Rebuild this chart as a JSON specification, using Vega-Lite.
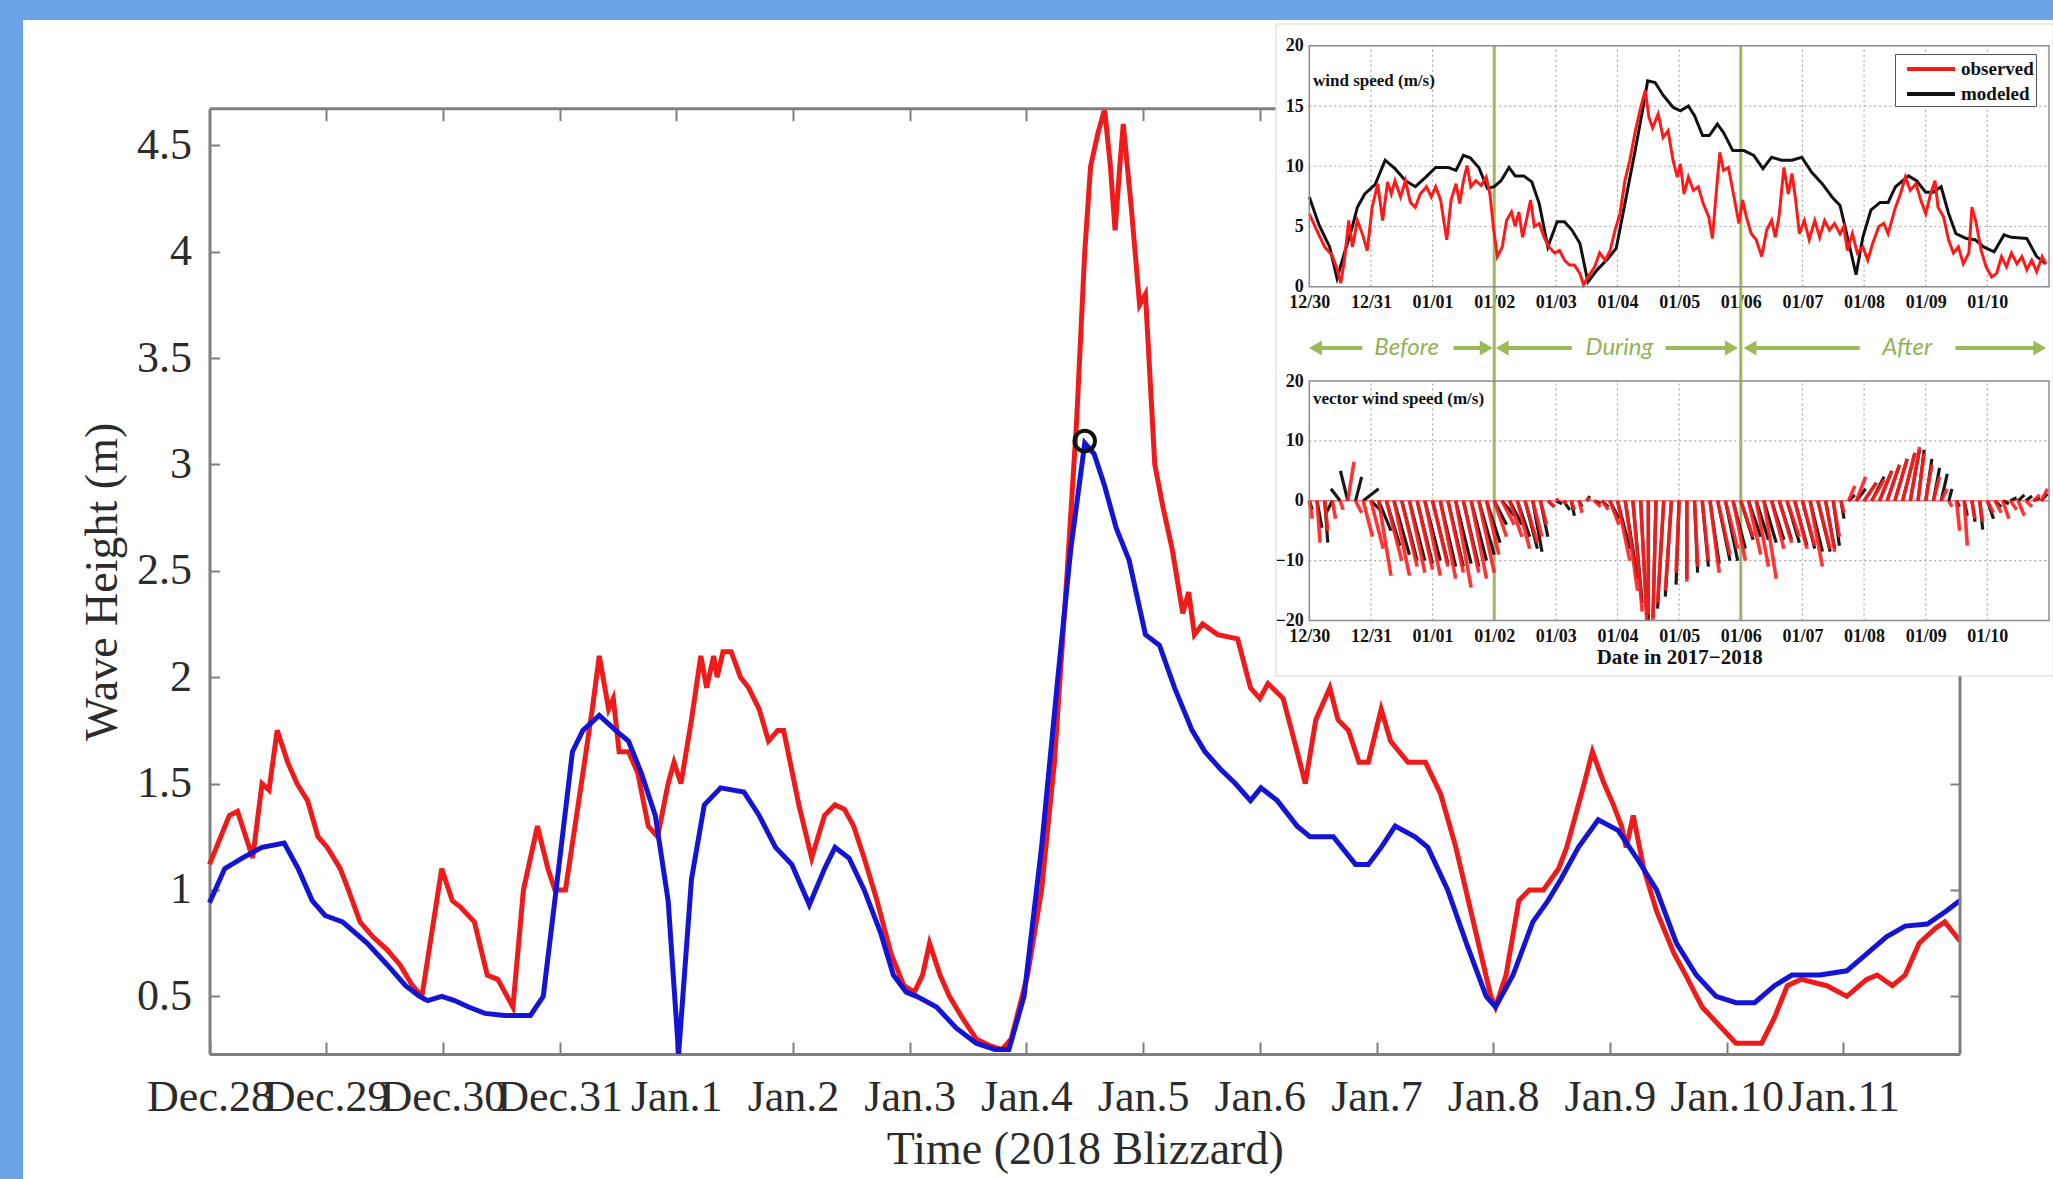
{
"$schema": "https://vega.github.io/schema/vega-lite/v6.json",
"width": 2030, "height": 1159,
"autosize": {"type": "none"},
"padding": {"left": 23, "top": 20, "right": 0, "bottom": 0},
"background": "#6aa3e6",
"config": {"view": {"stroke": null, "fill": "white"}},
"datasets": {
"obs": [
{"d":0.00,"h":1.12},{"d":0.17,"h":1.35},{"d":0.24,"h":1.37},{"d":0.37,"h":1.15},{"d":0.45,"h":1.50},{"d":0.51,"h":1.47},{"d":0.58,"h":1.75},{"d":0.67,"h":1.60},{"d":0.75,"h":1.50},{"d":0.84,"h":1.42},{"d":0.93,"h":1.25},{"d":1.01,"h":1.20},{"d":1.12,"h":1.10},{"d":1.19,"h":1.00},{"d":1.29,"h":0.85},{"d":1.40,"h":0.78},{"d":1.52,"h":0.72},{"d":1.63,"h":0.65},{"d":1.74,"h":0.55},{"d":1.82,"h":0.50},{"d":1.99,"h":1.10},{"d":2.08,"h":0.95},{"d":2.15,"h":0.92},{"d":2.27,"h":0.85},{"d":2.38,"h":0.60},{"d":2.47,"h":0.58},{"d":2.60,"h":0.45},{"d":2.69,"h":1.00},{"d":2.81,"h":1.30},{"d":2.90,"h":1.10},{"d":2.96,"h":1.00},{"d":3.05,"h":1.00},{"d":3.20,"h":1.55},{"d":3.28,"h":1.85},{"d":3.34,"h":2.10},{"d":3.42,"h":1.85},{"d":3.46,"h":1.90},{"d":3.51,"h":1.65},{"d":3.59,"h":1.65},{"d":3.67,"h":1.55},{"d":3.76,"h":1.30},{"d":3.84,"h":1.25},{"d":3.93,"h":1.50},{"d":3.98,"h":1.60},{"d":4.04,"h":1.50},{"d":4.13,"h":1.80},{"d":4.21,"h":2.10},{"d":4.26,"h":1.95},{"d":4.32,"h":2.10},{"d":4.35,"h":2.00},{"d":4.40,"h":2.12},{"d":4.47,"h":2.12},{"d":4.55,"h":2.00},{"d":4.62,"h":1.95},{"d":4.71,"h":1.85},{"d":4.79,"h":1.70},{"d":4.87,"h":1.75},{"d":4.92,"h":1.75},{"d":5.05,"h":1.40},{"d":5.16,"h":1.15},{"d":5.27,"h":1.35},{"d":5.36,"h":1.40},{"d":5.44,"h":1.38},{"d":5.52,"h":1.30},{"d":5.61,"h":1.15},{"d":5.72,"h":0.95},{"d":5.84,"h":0.70},{"d":5.95,"h":0.55},{"d":6.04,"h":0.52},{"d":6.11,"h":0.60},{"d":6.17,"h":0.75},{"d":6.26,"h":0.60},{"d":6.34,"h":0.50},{"d":6.45,"h":0.40},{"d":6.57,"h":0.30},{"d":6.68,"h":0.27},{"d":6.79,"h":0.25},{"d":6.87,"h":0.30},{"d":7.01,"h":0.60},{"d":7.13,"h":1.00},{"d":7.24,"h":1.60},{"d":7.35,"h":2.50},{"d":7.43,"h":3.20},{"d":7.50,"h":4.00},{"d":7.55,"h":4.40},{"d":7.61,"h":4.55},{"d":7.67,"h":4.67},{"d":7.72,"h":4.40},{"d":7.76,"h":4.10},{"d":7.80,"h":4.40},{"d":7.83,"h":4.60},{"d":7.90,"h":4.20},{"d":7.97,"h":3.75},{"d":8.02,"h":3.80},{"d":8.10,"h":3.00},{"d":8.17,"h":2.80},{"d":8.25,"h":2.60},{"d":8.34,"h":2.30},{"d":8.39,"h":2.40},{"d":8.44,"h":2.20},{"d":8.51,"h":2.25},{"d":8.64,"h":2.20},{"d":8.81,"h":2.18},{"d":8.92,"h":1.95},{"d":9.00,"h":1.90},{"d":9.07,"h":1.97},{"d":9.20,"h":1.90},{"d":9.32,"h":1.65},{"d":9.39,"h":1.50},{"d":9.48,"h":1.80},{"d":9.60,"h":1.95},{"d":9.67,"h":1.80},{"d":9.76,"h":1.75},{"d":9.85,"h":1.60},{"d":9.93,"h":1.60},{"d":10.04,"h":1.85},{"d":10.12,"h":1.70},{"d":10.27,"h":1.60},{"d":10.42,"h":1.60},{"d":10.55,"h":1.45},{"d":10.68,"h":1.20},{"d":10.83,"h":0.85},{"d":10.98,"h":0.50},{"d":11.02,"h":0.45},{"d":11.11,"h":0.60},{"d":11.22,"h":0.95},{"d":11.31,"h":1.00},{"d":11.43,"h":1.00},{"d":11.56,"h":1.10},{"d":11.63,"h":1.20},{"d":11.78,"h":1.50},{"d":11.85,"h":1.65},{"d":11.95,"h":1.50},{"d":12.03,"h":1.40},{"d":12.10,"h":1.30},{"d":12.14,"h":1.20},{"d":12.20,"h":1.35},{"d":12.29,"h":1.10},{"d":12.40,"h":0.90},{"d":12.55,"h":0.70},{"d":12.65,"h":0.60},{"d":12.79,"h":0.45},{"d":12.96,"h":0.35},{"d":13.08,"h":0.28},{"d":13.30,"h":0.28},{"d":13.41,"h":0.40},{"d":13.52,"h":0.55},{"d":13.64,"h":0.58},{"d":13.86,"h":0.55},{"d":14.03,"h":0.50},{"d":14.20,"h":0.58},{"d":14.29,"h":0.60},{"d":14.42,"h":0.55},{"d":14.53,"h":0.60},{"d":14.65,"h":0.75},{"d":14.79,"h":0.82},{"d":14.87,"h":0.85},{"d":15.00,"h":0.76}
],
"mod": [
{"d":0.00,"h":0.94},{"d":0.13,"h":1.10},{"d":0.28,"h":1.15},{"d":0.45,"h":1.20},{"d":0.64,"h":1.22},{"d":0.76,"h":1.10},{"d":0.88,"h":0.95},{"d":0.99,"h":0.88},{"d":1.14,"h":0.85},{"d":1.35,"h":0.75},{"d":1.52,"h":0.65},{"d":1.68,"h":0.55},{"d":1.80,"h":0.50},{"d":1.87,"h":0.48},{"d":1.99,"h":0.50},{"d":2.10,"h":0.48},{"d":2.22,"h":0.45},{"d":2.36,"h":0.42},{"d":2.53,"h":0.41},{"d":2.75,"h":0.41},{"d":2.86,"h":0.50},{"d":2.97,"h":1.00},{"d":3.11,"h":1.65},{"d":3.20,"h":1.75},{"d":3.34,"h":1.82},{"d":3.48,"h":1.75},{"d":3.59,"h":1.70},{"d":3.70,"h":1.55},{"d":3.82,"h":1.35},{"d":3.93,"h":0.95},{"d":4.02,"h":0.23},{"d":4.13,"h":1.05},{"d":4.24,"h":1.40},{"d":4.38,"h":1.48},{"d":4.58,"h":1.46},{"d":4.71,"h":1.35},{"d":4.85,"h":1.20},{"d":4.99,"h":1.12},{"d":5.14,"h":0.93},{"d":5.27,"h":1.10},{"d":5.36,"h":1.20},{"d":5.48,"h":1.15},{"d":5.61,"h":1.00},{"d":5.75,"h":0.80},{"d":5.86,"h":0.60},{"d":5.97,"h":0.52},{"d":6.06,"h":0.50},{"d":6.23,"h":0.45},{"d":6.40,"h":0.35},{"d":6.57,"h":0.28},{"d":6.73,"h":0.25},{"d":6.85,"h":0.25},{"d":6.98,"h":0.50},{"d":7.13,"h":1.20},{"d":7.27,"h":2.00},{"d":7.38,"h":2.60},{"d":7.50,"h":3.10},{"d":7.58,"h":3.05},{"d":7.67,"h":2.90},{"d":7.77,"h":2.70},{"d":7.88,"h":2.55},{"d":8.02,"h":2.20},{"d":8.14,"h":2.15},{"d":8.27,"h":1.95},{"d":8.42,"h":1.75},{"d":8.53,"h":1.65},{"d":8.66,"h":1.57},{"d":8.79,"h":1.50},{"d":8.92,"h":1.42},{"d":9.01,"h":1.48},{"d":9.15,"h":1.42},{"d":9.32,"h":1.30},{"d":9.43,"h":1.25},{"d":9.63,"h":1.25},{"d":9.82,"h":1.12},{"d":9.93,"h":1.12},{"d":10.04,"h":1.20},{"d":10.16,"h":1.30},{"d":10.33,"h":1.25},{"d":10.44,"h":1.20},{"d":10.61,"h":1.00},{"d":10.77,"h":0.75},{"d":10.94,"h":0.50},{"d":11.02,"h":0.45},{"d":11.17,"h":0.60},{"d":11.34,"h":0.85},{"d":11.47,"h":0.95},{"d":11.58,"h":1.05},{"d":11.73,"h":1.20},{"d":11.90,"h":1.33},{"d":12.07,"h":1.28},{"d":12.23,"h":1.15},{"d":12.40,"h":1.00},{"d":12.57,"h":0.75},{"d":12.74,"h":0.60},{"d":12.91,"h":0.50},{"d":13.08,"h":0.47},{"d":13.24,"h":0.47},{"d":13.41,"h":0.55},{"d":13.56,"h":0.60},{"d":13.80,"h":0.60},{"d":14.03,"h":0.62},{"d":14.20,"h":0.70},{"d":14.37,"h":0.78},{"d":14.53,"h":0.83},{"d":14.72,"h":0.84},{"d":14.88,"h":0.90},{"d":15.00,"h":0.95}
],
"wind": [
{"s":"modeled","d":0,"w":7.45},{"s":"modeled","d":0.16,"w":5.1},{"s":"modeled","d":0.33,"w":3.3},{"s":"modeled","d":0.45,"w":0.7},{"s":"modeled","d":0.57,"w":2.8},{"s":"modeled","d":0.70,"w":5.0},{"s":"modeled","d":0.78,"w":6.6},{"s":"modeled","d":0.90,"w":7.7},{"s":"modeled","d":1.07,"w":8.5},{"s":"modeled","d":1.23,"w":10.5},{"s":"modeled","d":1.39,"w":9.8},{"s":"modeled","d":1.56,"w":8.8},{"s":"modeled","d":1.72,"w":8.3},{"s":"modeled","d":1.89,"w":9.1},{"s":"modeled","d":2.05,"w":9.9},{"s":"modeled","d":2.25,"w":9.9},{"s":"modeled","d":2.38,"w":9.65},{"s":"modeled","d":2.50,"w":10.9},{"s":"modeled","d":2.61,"w":10.7},{"s":"modeled","d":2.75,"w":9.9},{"s":"modeled","d":2.89,"w":8.15},{"s":"modeled","d":3.0,"w":8.3},{"s":"modeled","d":3.11,"w":8.8},{"s":"modeled","d":3.24,"w":9.9},{"s":"modeled","d":3.34,"w":9.2},{"s":"modeled","d":3.48,"w":9.2},{"s":"modeled","d":3.61,"w":8.7},{"s":"modeled","d":3.73,"w":6.9},{"s":"modeled","d":3.87,"w":3.3},{"s":"modeled","d":4.02,"w":5.4},{"s":"modeled","d":4.14,"w":5.4},{"s":"modeled","d":4.26,"w":4.7},{"s":"modeled","d":4.39,"w":3.6},{"s":"modeled","d":4.52,"w":0.4},{"s":"modeled","d":4.67,"w":1.4},{"s":"modeled","d":4.84,"w":2.3},{"s":"modeled","d":4.98,"w":3.2},{"s":"modeled","d":5.12,"w":6.9},{"s":"modeled","d":5.29,"w":11.4},{"s":"modeled","d":5.41,"w":14.75},{"s":"modeled","d":5.49,"w":17.1},{"s":"modeled","d":5.61,"w":16.95},{"s":"modeled","d":5.74,"w":15.9},{"s":"modeled","d":5.90,"w":14.9},{"s":"modeled","d":6.02,"w":14.6},{"s":"modeled","d":6.15,"w":15.0},{"s":"modeled","d":6.25,"w":14.2},{"s":"modeled","d":6.38,"w":12.55},{"s":"modeled","d":6.49,"w":12.55},{"s":"modeled","d":6.62,"w":13.5},{"s":"modeled","d":6.72,"w":12.8},{"s":"modeled","d":6.87,"w":11.3},{"s":"modeled","d":7.05,"w":11.3},{"s":"modeled","d":7.21,"w":10.9},{"s":"modeled","d":7.36,"w":9.8},{"s":"modeled","d":7.50,"w":10.75},{"s":"modeled","d":7.66,"w":10.5},{"s":"modeled","d":7.83,"w":10.5},{"s":"modeled","d":7.99,"w":10.75},{"s":"modeled","d":8.15,"w":9.5},{"s":"modeled","d":8.32,"w":8.55},{"s":"modeled","d":8.48,"w":7.45},{"s":"modeled","d":8.61,"w":6.75},{"s":"modeled","d":8.69,"w":5.0},{"s":"modeled","d":8.79,"w":2.8},{"s":"modeled","d":8.87,"w":1.0},{"s":"modeled","d":8.98,"w":4.1},{"s":"modeled","d":9.11,"w":6.35},{"s":"modeled","d":9.26,"w":7.0},{"s":"modeled","d":9.39,"w":7.0},{"s":"modeled","d":9.51,"w":8.3},{"s":"modeled","d":9.72,"w":9.2},{"s":"modeled","d":9.85,"w":8.8},{"s":"modeled","d":10.0,"w":7.85},{"s":"modeled","d":10.12,"w":7.85},{"s":"modeled","d":10.25,"w":8.3},{"s":"modeled","d":10.37,"w":6.1},{"s":"modeled","d":10.49,"w":4.4},{"s":"modeled","d":10.66,"w":4.0},{"s":"modeled","d":10.80,"w":3.9},{"s":"modeled","d":10.94,"w":3.3},{"s":"modeled","d":11.11,"w":2.9},{"s":"modeled","d":11.27,"w":4.3},{"s":"modeled","d":11.39,"w":4.1},{"s":"modeled","d":11.64,"w":4.0},{"s":"modeled","d":11.80,"w":2.5},{"s":"modeled","d":11.95,"w":1.9},
{"s":"observed","d":0,"w":6.05},{"s":"observed","d":0.12,"w":4.7},{"s":"observed","d":0.25,"w":3.3},{"s":"observed","d":0.37,"w":2.6},{"s":"observed","d":0.45,"w":1.5},{"s":"observed","d":0.51,"w":0.3},{"s":"observed","d":0.57,"w":2.2},{"s":"observed","d":0.64,"w":5.5},{"s":"observed","d":0.70,"w":3.3},{"s":"observed","d":0.78,"w":5.5},{"s":"observed","d":0.86,"w":4.4},{"s":"observed","d":0.94,"w":3.0},{"s":"observed","d":1.02,"w":6.6},{"s":"observed","d":1.11,"w":8.55},{"s":"observed","d":1.19,"w":5.5},{"s":"observed","d":1.27,"w":8.7},{"s":"observed","d":1.33,"w":7.7},{"s":"observed","d":1.39,"w":8.8},{"s":"observed","d":1.48,"w":7.45},{"s":"observed","d":1.56,"w":8.8},{"s":"observed","d":1.64,"w":7.0},{"s":"observed","d":1.72,"w":6.6},{"s":"observed","d":1.80,"w":7.7},{"s":"observed","d":1.90,"w":8.3},{"s":"observed","d":1.98,"w":7.45},{"s":"observed","d":2.05,"w":8.3},{"s":"observed","d":2.13,"w":7.2},{"s":"observed","d":2.23,"w":3.9},{"s":"observed","d":2.30,"w":7.2},{"s":"observed","d":2.38,"w":8.55},{"s":"observed","d":2.44,"w":6.9},{"s":"observed","d":2.50,"w":8.8},{"s":"observed","d":2.56,"w":10.05},{"s":"observed","d":2.62,"w":8.3},{"s":"observed","d":2.70,"w":8.8},{"s":"observed","d":2.79,"w":8.4},{"s":"observed","d":2.87,"w":9.1},{"s":"observed","d":2.93,"w":7.7},{"s":"observed","d":2.99,"w":4.8},{"s":"observed","d":3.05,"w":2.5},{"s":"observed","d":3.13,"w":3.3},{"s":"observed","d":3.20,"w":5.5},{"s":"observed","d":3.28,"w":6.2},{"s":"observed","d":3.34,"w":5.0},{"s":"observed","d":3.40,"w":6.2},{"s":"observed","d":3.46,"w":4.1},{"s":"observed","d":3.52,"w":5.5},{"s":"observed","d":3.59,"w":7.2},{"s":"observed","d":3.65,"w":5.0},{"s":"observed","d":3.73,"w":5.25},{"s":"observed","d":3.81,"w":4.1},{"s":"observed","d":3.89,"w":3.3},{"s":"observed","d":3.98,"w":2.8},{"s":"observed","d":4.06,"w":3.0},{"s":"observed","d":4.14,"w":2.2},{"s":"observed","d":4.22,"w":1.8},{"s":"observed","d":4.30,"w":1.8},{"s":"observed","d":4.39,"w":1.1},{"s":"observed","d":4.45,"w":0.15},{"s":"observed","d":4.52,"w":0.8},{"s":"observed","d":4.63,"w":1.65},{"s":"observed","d":4.71,"w":2.8},{"s":"observed","d":4.80,"w":2.2},{"s":"observed","d":4.88,"w":3.0},{"s":"observed","d":4.96,"w":4.7},{"s":"observed","d":5.04,"w":6.05},{"s":"observed","d":5.12,"w":8.8},{"s":"observed","d":5.20,"w":10.5},{"s":"observed","d":5.29,"w":12.95},{"s":"observed","d":5.37,"w":14.75},{"s":"observed","d":5.45,"w":16.3},{"s":"observed","d":5.51,"w":14.05},{"s":"observed","d":5.57,"w":13.2},{"s":"observed","d":5.66,"w":14.35},{"s":"observed","d":5.74,"w":12.4},{"s":"observed","d":5.82,"w":12.95},{"s":"observed","d":5.90,"w":10.5},{"s":"observed","d":5.97,"w":9.1},{"s":"observed","d":6.02,"w":10.2},{"s":"observed","d":6.08,"w":7.7},{"s":"observed","d":6.15,"w":9.1},{"s":"observed","d":6.23,"w":8.0},{"s":"observed","d":6.31,"w":8.3},{"s":"observed","d":6.39,"w":6.9},{"s":"observed","d":6.48,"w":5.8},{"s":"observed","d":6.54,"w":4.0},{"s":"observed","d":6.60,"w":7.7},{"s":"observed","d":6.66,"w":11.15},{"s":"observed","d":6.72,"w":9.65},{"s":"observed","d":6.80,"w":9.9},{"s":"observed","d":6.89,"w":7.45},{"s":"observed","d":6.97,"w":5.25},{"s":"observed","d":7.03,"w":7.2},{"s":"observed","d":7.09,"w":5.8},{"s":"observed","d":7.17,"w":4.4},{"s":"observed","d":7.25,"w":3.9},{"s":"observed","d":7.34,"w":2.5},{"s":"observed","d":7.42,"w":4.7},{"s":"observed","d":7.50,"w":5.5},{"s":"observed","d":7.56,"w":4.1},{"s":"observed","d":7.62,"w":5.8},{"s":"observed","d":7.70,"w":9.9},{"s":"observed","d":7.77,"w":7.7},{"s":"observed","d":7.83,"w":9.4},{"s":"observed","d":7.89,"w":7.2},{"s":"observed","d":7.95,"w":4.4},{"s":"observed","d":8.03,"w":5.5},{"s":"observed","d":8.11,"w":3.9},{"s":"observed","d":8.20,"w":5.5},{"s":"observed","d":8.28,"w":4.1},{"s":"observed","d":8.36,"w":5.5},{"s":"observed","d":8.44,"w":4.7},{"s":"observed","d":8.52,"w":5.25},{"s":"observed","d":8.61,"w":4.4},{"s":"observed","d":8.67,"w":5.0},{"s":"observed","d":8.73,"w":3.0},{"s":"observed","d":8.81,"w":4.4},{"s":"observed","d":8.89,"w":2.8},{"s":"observed","d":8.98,"w":3.3},{"s":"observed","d":9.06,"w":2.2},{"s":"observed","d":9.14,"w":3.6},{"s":"observed","d":9.24,"w":5.0},{"s":"observed","d":9.32,"w":5.25},{"s":"observed","d":9.39,"w":4.4},{"s":"observed","d":9.45,"w":5.5},{"s":"observed","d":9.51,"w":6.6},{"s":"observed","d":9.59,"w":7.7},{"s":"observed","d":9.67,"w":9.1},{"s":"observed","d":9.75,"w":8.0},{"s":"observed","d":9.84,"w":8.55},{"s":"observed","d":9.92,"w":7.2},{"s":"observed","d":10.0,"w":6.05},{"s":"observed","d":10.08,"w":7.7},{"s":"observed","d":10.15,"w":8.8},{"s":"observed","d":10.20,"w":6.6},{"s":"observed","d":10.29,"w":5.8},{"s":"observed","d":10.37,"w":3.9},{"s":"observed","d":10.45,"w":2.8},{"s":"observed","d":10.53,"w":3.3},{"s":"observed","d":10.61,"w":1.9},{"s":"observed","d":10.70,"w":2.8},{"s":"observed","d":10.75,"w":6.6},{"s":"observed","d":10.82,"w":5.25},{"s":"observed","d":10.90,"w":3.0},{"s":"observed","d":10.98,"w":1.65},{"s":"observed","d":11.07,"w":0.8},{"s":"observed","d":11.15,"w":1.1},{"s":"observed","d":11.23,"w":2.5},{"s":"observed","d":11.31,"w":1.65},{"s":"observed","d":11.39,"w":2.8},{"s":"observed","d":11.48,"w":1.9},{"s":"observed","d":11.56,"w":2.5},{"s":"observed","d":11.64,"w":1.4},{"s":"observed","d":11.72,"w":2.2},{"s":"observed","d":11.80,"w":1.25},{"s":"observed","d":11.89,"w":2.5},{"s":"observed","d":11.95,"w":1.9}
],
"vmod": [
{"t":0.000,"tx":0.05,"v":-1.5},{"t":0.125,"tx":0.205,"v":-4.5},{"t":0.250,"tx":0.30,"v":-7.0},{"t":0.375,"tx":0.275,"v":-2.0},{"t":0.500,"tx":0.35,"v":2.0},{"t":0.625,"tx":0.505,"v":5.0},{"t":0.750,"tx":0.85,"v":4.0},{"t":0.875,"tx":1.125,"v":2.0},{"t":1.000,"tx":1.2,"v":-2.0},{"t":1.125,"tx":1.325,"v":-5.0},{"t":1.250,"tx":1.47,"v":-7.5},{"t":1.375,"tx":1.625,"v":-9.0},{"t":1.500,"tx":1.75,"v":-10.0},{"t":1.625,"tx":1.875,"v":-10.0},{"t":1.750,"tx":2.0,"v":-10.5},{"t":1.875,"tx":2.125,"v":-10.0},{"t":2.000,"tx":2.25,"v":-10.5},{"t":2.125,"tx":2.375,"v":-11.0},{"t":2.250,"tx":2.5,"v":-11.0},{"t":2.375,"tx":2.625,"v":-10.5},{"t":2.500,"tx":2.75,"v":-11.0},{"t":2.625,"tx":2.875,"v":-10.0},{"t":2.750,"tx":3.0,"v":-9.0},{"t":2.875,"tx":3.095,"v":-7.0},{"t":3.000,"tx":3.2,"v":-4.0},{"t":3.125,"tx":3.325,"v":-2.5},{"t":3.250,"tx":3.45,"v":-4.0},{"t":3.375,"tx":3.575,"v":-6.0},{"t":3.500,"tx":3.7,"v":-8.0},{"t":3.625,"tx":3.775,"v":-8.5},{"t":3.750,"tx":3.87,"v":-6.0},{"t":3.875,"tx":3.975,"v":-1.0},{"t":4.000,"tx":4.1,"v":-0.5},{"t":4.125,"tx":4.225,"v":-1.5},{"t":4.250,"tx":4.3,"v":-2.5},{"t":4.375,"tx":4.425,"v":-1.0},{"t":4.500,"tx":4.55,"v":0.8},{"t":4.625,"tx":4.725,"v":-0.5},{"t":4.750,"tx":4.85,"v":-1.0},{"t":4.875,"tx":5.025,"v":-3.0},{"t":5.000,"tx":5.2,"v":-8.0},{"t":5.125,"tx":5.325,"v":-13.0},{"t":5.250,"tx":5.4,"v":-17.0},{"t":5.375,"tx":5.475,"v":-19.0},{"t":5.500,"tx":5.5,"v":-20.0},{"t":5.625,"tx":5.575,"v":-19.5},{"t":5.750,"tx":5.65,"v":-18.0},{"t":5.875,"tx":5.775,"v":-16.0},{"t":6.000,"tx":5.95,"v":-14.0},{"t":6.125,"tx":6.125,"v":-13.0},{"t":6.250,"tx":6.3,"v":-12.0},{"t":6.375,"tx":6.475,"v":-11.0},{"t":6.500,"tx":6.65,"v":-10.5},{"t":6.625,"tx":6.825,"v":-10.0},{"t":6.750,"tx":6.95,"v":-10.0},{"t":6.875,"tx":7.075,"v":-8.0},{"t":7.000,"tx":7.2,"v":-6.5},{"t":7.125,"tx":7.325,"v":-6.0},{"t":7.250,"tx":7.45,"v":-6.5},{"t":7.375,"tx":7.575,"v":-7.0},{"t":7.500,"tx":7.7,"v":-6.5},{"t":7.625,"tx":7.825,"v":-6.5},{"t":7.750,"tx":7.95,"v":-7.0},{"t":7.875,"tx":8.075,"v":-7.5},{"t":8.000,"tx":8.2,"v":-8.0},{"t":8.125,"tx":8.325,"v":-8.5},{"t":8.250,"tx":8.45,"v":-8.5},{"t":8.375,"tx":8.525,"v":-8.0},{"t":8.500,"tx":8.6,"v":-7.5},{"t":8.625,"tx":8.675,"v":-3.0},{"t":8.750,"tx":8.85,"v":1.0},{"t":8.875,"tx":9.025,"v":2.0},{"t":9.000,"tx":9.2,"v":3.0},{"t":9.125,"tx":9.325,"v":4.0},{"t":9.250,"tx":9.45,"v":5.0},{"t":9.375,"tx":9.575,"v":6.0},{"t":9.500,"tx":9.7,"v":7.0},{"t":9.625,"tx":9.825,"v":8.0},{"t":9.750,"tx":9.9,"v":8.5},{"t":9.875,"tx":9.975,"v":8.5},{"t":10.000,"tx":10.1,"v":7.0},{"t":10.125,"tx":10.225,"v":5.5},{"t":10.250,"tx":10.35,"v":4.5},{"t":10.375,"tx":10.425,"v":2.0},{"t":10.500,"tx":10.55,"v":-1.0},{"t":10.625,"tx":10.675,"v":-2.5},{"t":10.750,"tx":10.8,"v":-3.5},{"t":10.875,"tx":10.925,"v":-4.8},{"t":11.000,"tx":11.1,"v":-3.0},{"t":11.125,"tx":11.225,"v":-1.0},{"t":11.250,"tx":11.35,"v":-0.5},{"t":11.375,"tx":11.475,"v":0.5},{"t":11.500,"tx":11.6,"v":1.0},{"t":11.625,"tx":11.725,"v":0.8},{"t":11.750,"tx":11.85,"v":0.5},{"t":11.875,"tx":11.975,"v":1.2}
],
"vobs": [
{"t":0.000,"tx":0.05,"v":-3.0},{"t":0.125,"tx":0.175,"v":-7.0},{"t":0.250,"tx":0.30,"v":-5.0},{"t":0.375,"tx":0.425,"v":-3.0},{"t":0.500,"tx":0.55,"v":-1.5},{"t":0.625,"tx":0.725,"v":6.5},{"t":0.750,"tx":0.85,"v":-2.0},{"t":0.875,"tx":1.025,"v":-6.0},{"t":1.000,"tx":1.2,"v":-8.0},{"t":1.125,"tx":1.325,"v":-12.5},{"t":1.250,"tx":1.5,"v":-10.0},{"t":1.375,"tx":1.625,"v":-12.5},{"t":1.500,"tx":1.75,"v":-11.0},{"t":1.625,"tx":1.875,"v":-12.0},{"t":1.750,"tx":2.0,"v":-11.5},{"t":1.875,"tx":2.125,"v":-12.5},{"t":2.000,"tx":2.25,"v":-11.0},{"t":2.125,"tx":2.375,"v":-13.0},{"t":2.250,"tx":2.5,"v":-12.0},{"t":2.375,"tx":2.625,"v":-14.5},{"t":2.500,"tx":2.75,"v":-12.0},{"t":2.625,"tx":2.875,"v":-13.0},{"t":2.750,"tx":3.0,"v":-12.0},{"t":2.875,"tx":3.075,"v":-9.0},{"t":3.000,"tx":3.2,"v":-6.0},{"t":3.125,"tx":3.325,"v":-4.0},{"t":3.250,"tx":3.45,"v":-6.0},{"t":3.375,"tx":3.575,"v":-8.0},{"t":3.500,"tx":3.7,"v":-7.0},{"t":3.625,"tx":3.775,"v":-6.0},{"t":3.750,"tx":3.85,"v":-4.0},{"t":3.875,"tx":3.975,"v":-1.0},{"t":4.000,"tx":4.05,"v":0.3},{"t":4.125,"tx":4.175,"v":-0.5},{"t":4.250,"tx":4.3,"v":-1.5},{"t":4.375,"tx":4.425,"v":-2.0},{"t":4.500,"tx":4.55,"v":0.5},{"t":4.625,"tx":4.725,"v":-1.0},{"t":4.750,"tx":4.85,"v":-1.5},{"t":4.875,"tx":5.025,"v":-4.0},{"t":5.000,"tx":5.2,"v":-10.0},{"t":5.125,"tx":5.325,"v":-15.0},{"t":5.250,"tx":5.4,"v":-18.5},{"t":5.375,"tx":5.475,"v":-20.0},{"t":5.500,"tx":5.5,"v":-19.0},{"t":5.625,"tx":5.575,"v":-20.0},{"t":5.750,"tx":5.65,"v":-17.0},{"t":5.875,"tx":5.775,"v":-15.0},{"t":6.000,"tx":5.95,"v":-12.0},{"t":6.125,"tx":6.125,"v":-13.5},{"t":6.250,"tx":6.3,"v":-11.0},{"t":6.375,"tx":6.475,"v":-10.0},{"t":6.500,"tx":6.65,"v":-12.0},{"t":6.625,"tx":6.825,"v":-9.0},{"t":6.750,"tx":6.95,"v":-8.0},{"t":6.875,"tx":7.075,"v":-10.0},{"t":7.000,"tx":7.2,"v":-6.0},{"t":7.125,"tx":7.325,"v":-9.0},{"t":7.250,"tx":7.45,"v":-11.0},{"t":7.375,"tx":7.575,"v":-13.0},{"t":7.500,"tx":7.7,"v":-8.0},{"t":7.625,"tx":7.825,"v":-7.0},{"t":7.750,"tx":7.95,"v":-6.0},{"t":7.875,"tx":8.075,"v":-8.0},{"t":8.000,"tx":8.2,"v":-7.5},{"t":8.125,"tx":8.325,"v":-11.0},{"t":8.250,"tx":8.45,"v":-8.0},{"t":8.375,"tx":8.525,"v":-8.5},{"t":8.500,"tx":8.6,"v":-6.0},{"t":8.625,"tx":8.675,"v":-2.0},{"t":8.750,"tx":8.85,"v":2.5},{"t":8.875,"tx":9.025,"v":4.0},{"t":9.000,"tx":9.2,"v":3.0},{"t":9.125,"tx":9.325,"v":3.5},{"t":9.250,"tx":9.45,"v":5.0},{"t":9.375,"tx":9.575,"v":6.0},{"t":9.500,"tx":9.7,"v":7.0},{"t":9.625,"tx":9.825,"v":8.0},{"t":9.750,"tx":9.9,"v":9.0},{"t":9.875,"tx":9.975,"v":8.0},{"t":10.000,"tx":10.1,"v":6.0},{"t":10.125,"tx":10.225,"v":4.0},{"t":10.250,"tx":10.35,"v":2.0},{"t":10.375,"tx":10.425,"v":-1.0},{"t":10.500,"tx":10.55,"v":-5.0},{"t":10.625,"tx":10.675,"v":-7.5},{"t":10.750,"tx":10.8,"v":-3.0},{"t":10.875,"tx":10.925,"v":-3.5},{"t":11.000,"tx":11.1,"v":-2.0},{"t":11.125,"tx":11.225,"v":-2.0},{"t":11.250,"tx":11.35,"v":-3.0},{"t":11.375,"tx":11.475,"v":-1.5},{"t":11.500,"tx":11.6,"v":-2.5},{"t":11.625,"tx":11.725,"v":-1.0},{"t":11.750,"tx":11.85,"v":1.0},{"t":11.875,"tx":11.975,"v":2.0}
]
},
"layer": [
{
"layer": [
{"data": {"name": "obs"}, "mark": {"type": "line", "color": "#ef1b1b", "strokeWidth": 5},
 "encoding": {
  "x": {"field": "d", "type": "quantitative", "scale": {"domain": [0, 15], "range": [186.5, 1937], "nice": false, "zero": false},
   "axis": {"orient": "bottom", "offset": -125, "values": [0,1,2,3,4,5,6,7,8,9,10,11,12,13,14],
    "labelExpr": "['Dec.28','Dec.29','Dec.30','Dec.31','Jan.1','Jan.2','Jan.3','Jan.4','Jan.5','Jan.6','Jan.7','Jan.8','Jan.9','Jan.10','Jan.11'][datum.value]",
    "labelOverlap": false, "labelFlush": false, "labelBound": false, "grid": false,
    "domain": true, "domainColor": "#7f7f7f", "domainWidth": 3, "ticks": true, "tickSize": -12, "tickColor": "#7f7f7f", "tickWidth": 2,
    "labelPadding": 33, "labelFont": "Liberation Serif", "labelFontSize": 44, "labelColor": "#2b2b2b",
    "title": "Time (2018 Blizzard)", "titleFont": "Liberation Serif", "titleFontSize": 46, "titleFontWeight": "normal", "titleColor": "#2b2b2b", "titlePadding": 8}},
  "y": {"field": "h", "type": "quantitative", "scale": {"domain": [0.229, 4.672], "range": [1034, 88.7], "nice": false, "zero": false},
   "axis": {"orient": "left", "offset": -186.5, "values": [0.5,1,1.5,2,2.5,3,3.5,4,4.5], "format": "~g",
    "labelOverlap": false, "labelFlush": false, "labelBound": false, "grid": false,
    "domain": true, "domainColor": "#7f7f7f", "domainWidth": 3, "ticks": true, "tickSize": -10, "tickColor": "#7f7f7f", "tickWidth": 2,
    "labelPadding": 28, "labelFont": "Liberation Serif", "labelFontSize": 44, "labelColor": "#2b2b2b",
    "title": "Wave Height (m)", "titleFont": "Liberation Serif", "titleFontSize": 46, "titleFontWeight": "normal", "titleColor": "#2b2b2b", "titlePadding": 10}}
 }},
{"data": {"name": "mod"}, "mark": {"type": "line", "color": "#1414d4", "strokeWidth": 5},
 "encoding": {
  "x": {"field": "d", "type": "quantitative", "scale": {"domain": [0, 15], "range": [186.5, 1937], "nice": false, "zero": false},
   "axis": {"orient": "top", "offset": -88.7, "values": [1,2,3,4,5,6,7,8,9], "labels": false, "domain": false, "grid": false,
    "ticks": true, "tickSize": -12, "tickColor": "#7f7f7f", "tickWidth": 2, "title": null}},
  "y": {"field": "h", "type": "quantitative", "scale": {"domain": [0.229, 4.672], "range": [1034, 88.7], "nice": false, "zero": false},
   "axis": {"orient": "right", "offset": -93, "values": [0.5, 1, 1.5], "labels": false, "domain": false, "grid": false,
    "ticks": true, "tickSize": -10, "tickColor": "#7f7f7f", "tickWidth": 2, "title": null}}
 }},
{"data": {"values": [{"d": 7.5, "h": 3.11}]}, "mark": {"type": "point", "shape": "circle", "filled": false, "stroke": "#111111", "strokeWidth": 4, "size": 420, "opacity": 1},
 "encoding": {
  "x": {"field": "d", "type": "quantitative", "scale": {"domain": [0, 15], "range": [186.5, 1937], "nice": false, "zero": false}, "axis": null},
  "y": {"field": "h", "type": "quantitative", "scale": {"domain": [0.229, 4.672], "range": [1034, 88.7], "nice": false, "zero": false}, "axis": null}
 }},
{"data": {"values": [{"a": 0, "b": 9.14, "h": 4.672}]}, "mark": {"type": "rule", "color": "#7f7f7f", "strokeWidth": 3},
 "encoding": {
  "x": {"field": "a", "type": "quantitative", "scale": {"domain": [0, 15], "range": [186.5, 1937], "nice": false, "zero": false}, "axis": null},
  "x2": {"field": "b"},
  "y": {"field": "h", "type": "quantitative", "scale": {"domain": [0.229, 4.672], "range": [1034, 88.7], "nice": false, "zero": false}, "axis": null}
 }},
{"data": {"values": [{"d": 15, "a": 0.229, "b": 2.006}]}, "mark": {"type": "rule", "color": "#7f7f7f", "strokeWidth": 3},
 "encoding": {
  "x": {"field": "d", "type": "quantitative", "scale": {"domain": [0, 15], "range": [186.5, 1937], "nice": false, "zero": false}, "axis": null},
  "y": {"field": "a", "type": "quantitative", "scale": {"domain": [0.229, 4.672], "range": [1034, 88.7], "nice": false, "zero": false}, "axis": null},
  "y2": {"field": "b"}
 }}
],
"resolve": {"axis": {"x": "independent", "y": "independent"}}
},
{
"layer": [
{"data": {"values": [{"a": -0.54, "b": 12.07, "c": 21.8, "e": -32.3}]}, "mark": {"type": "rect", "fillOpacity": 0, "stroke": "#e4e4e4", "strokeWidth": 1.5},
 "encoding": {
  "x": {"field": "a", "type": "quantitative", "scale": {"domain": [0, 12], "range": [1286.3, 2026], "nice": false, "zero": false},
   "axis": {"orient": "bottom", "offset": -892.3, "values": [0,1,2,3,4,5,6,7,8,9,10,11],
    "labelExpr": "['12/30','12/31','01/01','01/02','01/03','01/04','01/05','01/06','01/07','01/08','01/09','01/10'][datum.value]",
    "labelOverlap": false, "labelFlush": false, "labelBound": false, "domain": false, "ticks": false, "grid": false,
    "labelPadding": 7, "labelFont": "Liberation Serif", "labelFontWeight": "bold", "labelFontSize": 18, "labelColor": "#111111", "title": null}},
  "x2": {"field": "b"},
  "y": {"field": "c", "type": "quantitative", "scale": {"domain": [0, 20], "range": [266.7, 25.8], "nice": false, "zero": false},
   "axis": {"orient": "left", "offset": -1286.3, "values": [0, 5, 10, 15, 20],
    "labelOverlap": false, "labelFlush": false, "labelBound": false, "domain": false, "ticks": false, "grid": false,
    "labelPadding": 6, "labelFont": "Liberation Serif", "labelFontWeight": "bold", "labelFontSize": 18, "labelColor": "#111111", "title": null}},
  "y2": {"field": "e"}
 }},
{"data": {"values": [{"d":1,"lo":0,"hi":20},{"d":2,"lo":0,"hi":20},{"d":3,"lo":0,"hi":20},{"d":4,"lo":0,"hi":20},{"d":5,"lo":0,"hi":20},{"d":6,"lo":0,"hi":20},{"d":7,"lo":0,"hi":20},{"d":8,"lo":0,"hi":20},{"d":9,"lo":0,"hi":20},{"d":10,"lo":0,"hi":20},{"d":11,"lo":0,"hi":20}]},
 "mark": {"type": "rule", "color": "#a8a8a8", "strokeWidth": 1.2, "strokeDash": [2, 3]},
 "encoding": {
  "x": {"field": "d", "type": "quantitative", "scale": {"domain": [0, 12], "range": [1286.3, 2026], "nice": false, "zero": false}, "axis": null},
  "y": {"field": "lo", "type": "quantitative", "scale": {"domain": [0, 20], "range": [266.7, 25.8], "nice": false, "zero": false}, "axis": null},
  "y2": {"field": "hi"}
 }},
{"data": {"values": [{"w":5,"a":0,"b":12},{"w":10,"a":0,"b":12},{"w":15,"a":0,"b":12}]},
 "mark": {"type": "rule", "color": "#a8a8a8", "strokeWidth": 1.2, "strokeDash": [2, 3]},
 "encoding": {
  "x": {"field": "a", "type": "quantitative", "scale": {"domain": [0, 12], "range": [1286.3, 2026], "nice": false, "zero": false}, "axis": null},
  "x2": {"field": "b"},
  "y": {"field": "w", "type": "quantitative", "scale": {"domain": [0, 20], "range": [266.7, 25.8], "nice": false, "zero": false}, "axis": null}
 }},
{"data": {"values": [{"d": 3, "c": 20, "e": -27.73}, {"d": 7, "c": 20, "e": -27.73}]}, "mark": {"type": "rule", "color": "#9bbb59", "strokeWidth": 3},
 "encoding": {
  "x": {"field": "d", "type": "quantitative", "scale": {"domain": [0, 12], "range": [1286.3, 2026], "nice": false, "zero": false}, "axis": null},
  "y": {"field": "c", "type": "quantitative", "scale": {"domain": [0, 20], "range": [266.7, 25.8], "nice": false, "zero": false}, "axis": null},
  "y2": {"field": "e"}
 }},
{"data": {"name": "wind"}, "mark": {"type": "line", "strokeWidth": 3},
 "encoding": {
  "x": {"field": "d", "type": "quantitative", "scale": {"domain": [0, 12], "range": [1286.3, 2026], "nice": false, "zero": false}, "axis": null},
  "y": {"field": "w", "type": "quantitative", "scale": {"domain": [0, 20], "range": [266.7, 25.8], "nice": false, "zero": false}, "axis": null},
  "stroke": {"field": "s", "type": "nominal", "scale": {"domain": ["observed", "modeled"], "range": ["#ff1a1a", "#111111"]},
   "legend": {"orient": "none", "legendX": 1872, "legendY": 34, "title": null, "direction": "vertical",
    "strokeColor": "#555555", "fillColor": "white", "padding": 2, "symbolType": "M-0.27,0H4.09", "symbolStrokeWidth": 4, "symbolSize": 484,
    "labelFont": "Liberation Serif", "labelFontWeight": "bold", "labelFontSize": 19, "labelColor": "#111111", "rowPadding": 2, "labelOffset": 38}}
 }},
{"data": {"values": [{"a": 0, "b": 12, "c": 0, "e": 20}]}, "mark": {"type": "rect", "fillOpacity": 0, "stroke": "#8c8c8c", "strokeWidth": 1.5},
 "encoding": {
  "x": {"field": "a", "type": "quantitative", "scale": {"domain": [0, 12], "range": [1286.3, 2026], "nice": false, "zero": false}, "axis": null},
  "x2": {"field": "b"},
  "y": {"field": "c", "type": "quantitative", "scale": {"domain": [0, 20], "range": [266.7, 25.8], "nice": false, "zero": false}, "axis": null},
  "y2": {"field": "e"}
 }},
{"data": {"values": [{"d": 0.06, "w": 17.1, "label": "wind speed (m/s)"}]}, "mark": {"type": "text", "align": "left", "baseline": "middle", "font": "Liberation Serif", "fontWeight": "bold", "fontSize": 17, "color": "#111111"},
 "encoding": {
  "x": {"field": "d", "type": "quantitative", "scale": {"domain": [0, 12], "range": [1286.3, 2026], "nice": false, "zero": false}, "axis": null},
  "y": {"field": "w", "type": "quantitative", "scale": {"domain": [0, 20], "range": [266.7, 25.8], "nice": false, "zero": false}, "axis": null},
  "text": {"field": "label", "type": "nominal"}
 }},
{"data": {"values": [{"a": 0.08, "b": 0.86, "y": -5.09}, {"a": 2.34, "b": 2.9, "y": -5.09}, {"a": 3.1, "b": 4.26, "y": -5.09}, {"a": 5.78, "b": 6.88, "y": -5.09}, {"a": 7.12, "b": 8.93, "y": -5.09}, {"a": 10.48, "b": 11.88, "y": -5.09}]},
 "mark": {"type": "rule", "color": "#9bbb59", "strokeWidth": 4},
 "encoding": {
  "x": {"field": "a", "type": "quantitative", "scale": {"domain": [0, 12], "range": [1286.3, 2026], "nice": false, "zero": false}, "axis": null},
  "x2": {"field": "b"},
  "y": {"field": "y", "type": "quantitative", "scale": {"domain": [0, 20], "range": [266.7, 25.8], "nice": false, "zero": false}, "axis": null}
 }},
{"data": {"values": [{"d": 0.1, "y": -5.09, "dir": "L"}, {"d": 2.87, "y": -5.09, "dir": "R"}, {"d": 3.13, "y": -5.09, "dir": "L"}, {"d": 6.85, "y": -5.09, "dir": "R"}, {"d": 7.15, "y": -5.09, "dir": "L"}, {"d": 11.85, "y": -5.09, "dir": "R"}]},
 "mark": {"type": "point", "filled": true, "color": "#9bbb59", "size": 220, "opacity": 1},
 "encoding": {
  "x": {"field": "d", "type": "quantitative", "scale": {"domain": [0, 12], "range": [1286.3, 2026], "nice": false, "zero": false}, "axis": null},
  "y": {"field": "y", "type": "quantitative", "scale": {"domain": [0, 20], "range": [266.7, 25.8], "nice": false, "zero": false}, "axis": null},
  "shape": {"field": "dir", "type": "nominal", "scale": {"domain": ["L", "R"], "range": ["triangle-left", "triangle-right"]}, "legend": null}
 }},
{"data": {"values": [{"d": 1.58, "y": -5.09, "label": "Before"}, {"d": 5.03, "y": -5.09, "label": "During"}, {"d": 9.7, "y": -5.09, "label": "After"}]},
 "mark": {"type": "text", "align": "center", "baseline": "middle", "font": "Lato", "fontStyle": "italic", "fontSize": 24, "color": "#93b255"},
 "encoding": {
  "x": {"field": "d", "type": "quantitative", "scale": {"domain": [0, 12], "range": [1286.3, 2026], "nice": false, "zero": false}, "axis": null},
  "y": {"field": "y", "type": "quantitative", "scale": {"domain": [0, 20], "range": [266.7, 25.8], "nice": false, "zero": false}, "axis": null},
  "text": {"field": "label", "type": "nominal"}
 }}
],
"resolve": {"axis": {"x": "independent", "y": "independent"}}
},
{
"layer": [
{"data": {"values": [{"a": 0, "b": 12, "v": 0}]}, "mark": {"type": "rule", "color": "#ff7070", "strokeWidth": 1.5},
 "encoding": {
  "x": {"field": "a", "type": "quantitative", "scale": {"domain": [0, 12], "range": [1286.3, 2026], "nice": false, "zero": false},
   "axis": {"orient": "bottom", "offset": -558.4, "values": [0,1,2,3,4,5,6,7,8,9,10,11],
    "labelExpr": "['12/30','12/31','01/01','01/02','01/03','01/04','01/05','01/06','01/07','01/08','01/09','01/10'][datum.value]",
    "labelOverlap": false, "labelFlush": false, "labelBound": false, "domain": false, "ticks": false, "grid": false,
    "labelPadding": 7, "labelFont": "Liberation Serif", "labelFontWeight": "bold", "labelFontSize": 18, "labelColor": "#111111",
    "title": "Date in 2017\u22122018", "titleFont": "Liberation Serif", "titleFontWeight": "bold", "titleFontSize": 21, "titleColor": "#111111", "titlePadding": 1}},
  "x2": {"field": "b"},
  "y": {"field": "v", "type": "quantitative", "scale": {"domain": [-20, 20], "range": [600.6, 361], "nice": false, "zero": false},
   "axis": {"orient": "left", "offset": -1286.3, "values": [-20, -10, 0, 10, 20],
    "labelOverlap": false, "labelFlush": false, "labelBound": false, "domain": false, "ticks": false, "grid": false,
    "labelPadding": 6, "labelFont": "Liberation Serif", "labelFontWeight": "bold", "labelFontSize": 18, "labelColor": "#111111", "title": null}}
 }},
{"data": {"values": [{"d":1,"lo":-20,"hi":20},{"d":2,"lo":-20,"hi":20},{"d":3,"lo":-20,"hi":20},{"d":4,"lo":-20,"hi":20},{"d":5,"lo":-20,"hi":20},{"d":6,"lo":-20,"hi":20},{"d":7,"lo":-20,"hi":20},{"d":8,"lo":-20,"hi":20},{"d":9,"lo":-20,"hi":20},{"d":10,"lo":-20,"hi":20},{"d":11,"lo":-20,"hi":20}]},
 "mark": {"type": "rule", "color": "#a8a8a8", "strokeWidth": 1.2, "strokeDash": [2, 3]},
 "encoding": {
  "x": {"field": "d", "type": "quantitative", "scale": {"domain": [0, 12], "range": [1286.3, 2026], "nice": false, "zero": false}, "axis": null},
  "y": {"field": "lo", "type": "quantitative", "scale": {"domain": [-20, 20], "range": [600.6, 361], "nice": false, "zero": false}, "axis": null},
  "y2": {"field": "hi"}
 }},
{"data": {"values": [{"v":-10,"a":0,"b":12},{"v":10,"a":0,"b":12}]},
 "mark": {"type": "rule", "color": "#a8a8a8", "strokeWidth": 1.2, "strokeDash": [2, 3]},
 "encoding": {
  "x": {"field": "a", "type": "quantitative", "scale": {"domain": [0, 12], "range": [1286.3, 2026], "nice": false, "zero": false}, "axis": null},
  "x2": {"field": "b"},
  "y": {"field": "v", "type": "quantitative", "scale": {"domain": [-20, 20], "range": [600.6, 361], "nice": false, "zero": false}, "axis": null}
 }},
{"data": {"name": "vmod"}, "mark": {"type": "rule", "color": "#1a1a1a", "strokeWidth": 3.2},
 "encoding": {
  "x": {"field": "tx", "type": "quantitative", "scale": {"domain": [0, 12], "range": [1286.3, 2026], "nice": false, "zero": false}, "axis": null},
  "x2": {"field": "t"},
  "y": {"field": "v", "type": "quantitative", "scale": {"domain": [-20, 20], "range": [600.6, 361], "nice": false, "zero": false}, "axis": null},
  "y2": {"datum": 0}
 }},
{"data": {"name": "vobs"}, "mark": {"type": "rule", "color": "#ff1f1f", "strokeWidth": 3.6, "opacity": 0.9},
 "encoding": {
  "x": {"field": "tx", "type": "quantitative", "scale": {"domain": [0, 12], "range": [1286.3, 2026], "nice": false, "zero": false}, "axis": null},
  "x2": {"field": "t"},
  "y": {"field": "v", "type": "quantitative", "scale": {"domain": [-20, 20], "range": [600.6, 361], "nice": false, "zero": false}, "axis": null},
  "y2": {"datum": 0}
 }},
{"data": {"values": [{"a": 0, "b": 12, "c": -20, "e": 20}]}, "mark": {"type": "rect", "fillOpacity": 0, "stroke": "#8c8c8c", "strokeWidth": 1.5},
 "encoding": {
  "x": {"field": "a", "type": "quantitative", "scale": {"domain": [0, 12], "range": [1286.3, 2026], "nice": false, "zero": false}, "axis": null},
  "x2": {"field": "b"},
  "y": {"field": "c", "type": "quantitative", "scale": {"domain": [-20, 20], "range": [600.6, 361], "nice": false, "zero": false}, "axis": null},
  "y2": {"field": "e"}
 }},
{"data": {"values": [{"d": 0.06, "v": 17, "label": "vector wind speed (m/s)"}]}, "mark": {"type": "text", "align": "left", "baseline": "middle", "font": "Liberation Serif", "fontWeight": "bold", "fontSize": 17, "color": "#111111"},
 "encoding": {
  "x": {"field": "d", "type": "quantitative", "scale": {"domain": [0, 12], "range": [1286.3, 2026], "nice": false, "zero": false}, "axis": null},
  "y": {"field": "v", "type": "quantitative", "scale": {"domain": [-20, 20], "range": [600.6, 361], "nice": false, "zero": false}, "axis": null},
  "text": {"field": "label", "type": "nominal"}
 }}
],
"resolve": {"axis": {"x": "independent", "y": "independent"}}
}
],
"resolve": {"scale": {"x": "independent", "y": "independent"}}
}
